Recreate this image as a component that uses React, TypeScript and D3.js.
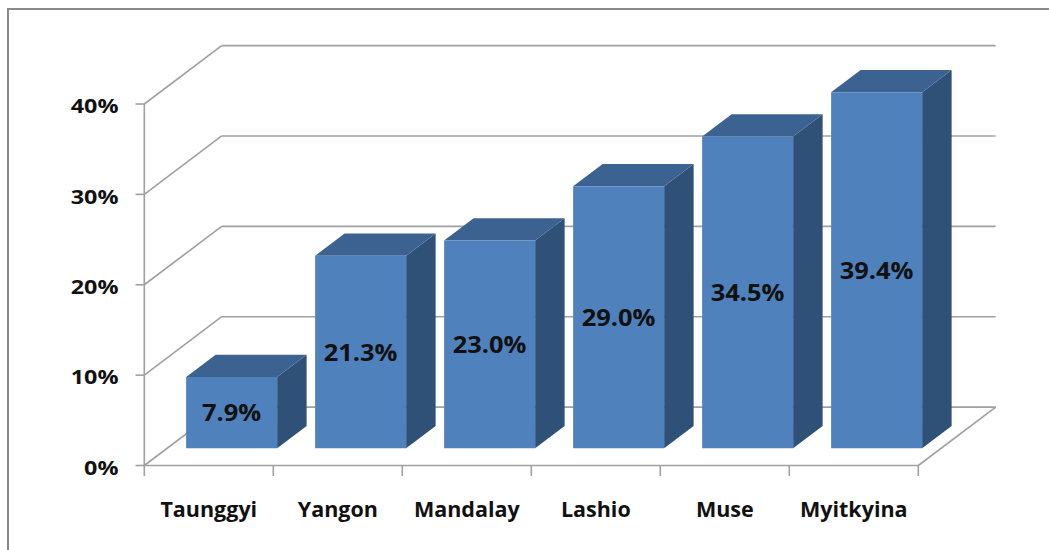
import React from "react";
import * as d3 from "d3";

const categories = ["Taunggyi", "Yangon", "Mandalay", "Lashio", "Muse", "Myitkyina"];
const values = [7.9, 21.3, 23.0, 29.0, 34.5, 39.4];
const yTicks = [0, 10, 20, 30, 40];

const W = 1049;
const H = 550;
const frontLeft = 144.3;
const frontRight = 918.3;
const front0 = 465.5;
const front40 = 104;
const depthDX = 77.4;
const depthDY = -58.4;
const barF0 = 0.295;
const barF1 = 0.676;
const barW = 91;

const gridColor = "#a0a0a0";
const frontFill = "#4f81bd";
const topFill = "#3c6291";
const sideFill = "#2f5178";
const fontFam = "'Open Sans', 'DejaVu Sans', sans-serif";

export default function App() {
  const x = d3.scaleBand<string>().domain(categories).range([frontLeft, frontRight]).paddingInner(0).paddingOuter(0);
  const y = d3.scaleLinear().domain([0, 40]).range([front0, front40]);
  const bw = x.bandwidth();

  const pt = (px: number, py: number, f: number) => [px + depthDX * f, py + depthDY * f];
  const poly = (pts: number[][]) => pts.map((p) => p.join(",")).join(" ");

  return (
    <svg width={W} height={H} style={{ position: "absolute", left: 0, top: 0, background: "#fff" }}>
      <rect x={8} y={9} width={W + 20} height={H + 20} fill="#fff" stroke="#8a8a8a" strokeWidth={2} />
      {/* back wall gridlines */}
      {yTicks.map((t) => {
        const [x1, y1] = pt(frontLeft, y(t), 1);
        const [x2] = pt(frontRight, y(t), 1);
        return <line key={"bg" + t} x1={x1} y1={y1} x2={x2} y2={y1} stroke={gridColor} strokeWidth={1.6} />;
      })}
      {/* left wall gridlines */}
      {yTicks.map((t) => {
        const [x2, y2] = pt(frontLeft, y(t), 1);
        return <line key={"lw" + t} x1={frontLeft} y1={y(t)} x2={x2} y2={y2} stroke={gridColor} strokeWidth={1.6} />;
      })}
      {/* floor right edge */}
      {(() => {
        const [x2, y2] = pt(frontRight, y(0), 1);
        return <line x1={frontRight} y1={y(0)} x2={x2} y2={y2} stroke={gridColor} strokeWidth={1.6} />;
      })()}
      {/* front axis */}
      <line x1={frontLeft} y1={y(40)} x2={frontLeft} y2={y(0)} stroke={gridColor} strokeWidth={1.6} />
      <line x1={frontLeft} y1={y(0)} x2={frontRight} y2={y(0)} stroke={gridColor} strokeWidth={1.6} />
      {yTicks.map((t) => (
        <line key={"yt" + t} x1={135.5} y1={y(t)} x2={frontLeft} y2={y(t)} stroke={gridColor} strokeWidth={1.6} />
      ))}
      {d3.range(categories.length + 1).map((k) => {
        const xx = frontLeft + k * bw;
        return <line key={"xt" + k} x1={xx} y1={y(0)} x2={xx} y2={476} stroke={gridColor} strokeWidth={1.6} />;
      })}
      {/* bars */}
      {categories.map((c, i) => {
        const v = values[i];
        const cx = (x(c) as number) + bw / 2;
        const l = cx - barW / 2;
        const r = cx + barW / 2;
        const b = y(0);
        const tp = y(v);
        const fl = pt(l, b, barF0);
        const frT = pt(r, tp, barF0);
        const flT = pt(l, tp, barF0);
        const frB = pt(r, b, barF0);
        const blT = pt(l, tp, barF1);
        const brT = pt(r, tp, barF1);
        const brB = pt(r, b, barF1);
        const mid = pt(cx, (b + tp) / 2, barF0);
        return (
          <g key={c}>
            <polygon points={poly([frB, frT, brT, brB])} fill={sideFill} />
            <polygon points={poly([flT, blT, brT, frT])} fill={topFill} />
            <polygon points={poly([fl, flT, frT, frB])} fill={frontFill} />
            <g transform={`translate(${mid[0]},${mid[1]}) scale(1.06,1)`}>
              <text
                x={0}
                y={0}
                dy="0.36em"
                textAnchor="middle"
                fontFamily={fontFam}
                fontWeight={700}
                fontSize={24}
                fill="#111"
              >
                {v.toFixed(1) + "%"}
              </text>
            </g>
          </g>
        );
      })}
      {/* y labels */}
      {yTicks.map((t) => (
        <g key={"yl" + t} transform={`translate(118.5,${y(t) + 9.3}) scale(1.23,1)`}>
          <text x={0} y={0} textAnchor="end" fontFamily={fontFam} fontWeight={700} fontSize={19} fill="#111">
            {t + "%"}
          </text>
        </g>
      ))}
      {/* x labels */}
      {categories.map((c) => (
        <text
          key={"xl" + c}
          x={(x(c) as number) + bw / 2}
          y={517.3}
          textAnchor="middle"
          fontFamily={fontFam}
          fontWeight={700}
          fontSize={21.5}
          fill="#111"
        >
          {c}
        </text>
      ))}
    </svg>
  );
}
